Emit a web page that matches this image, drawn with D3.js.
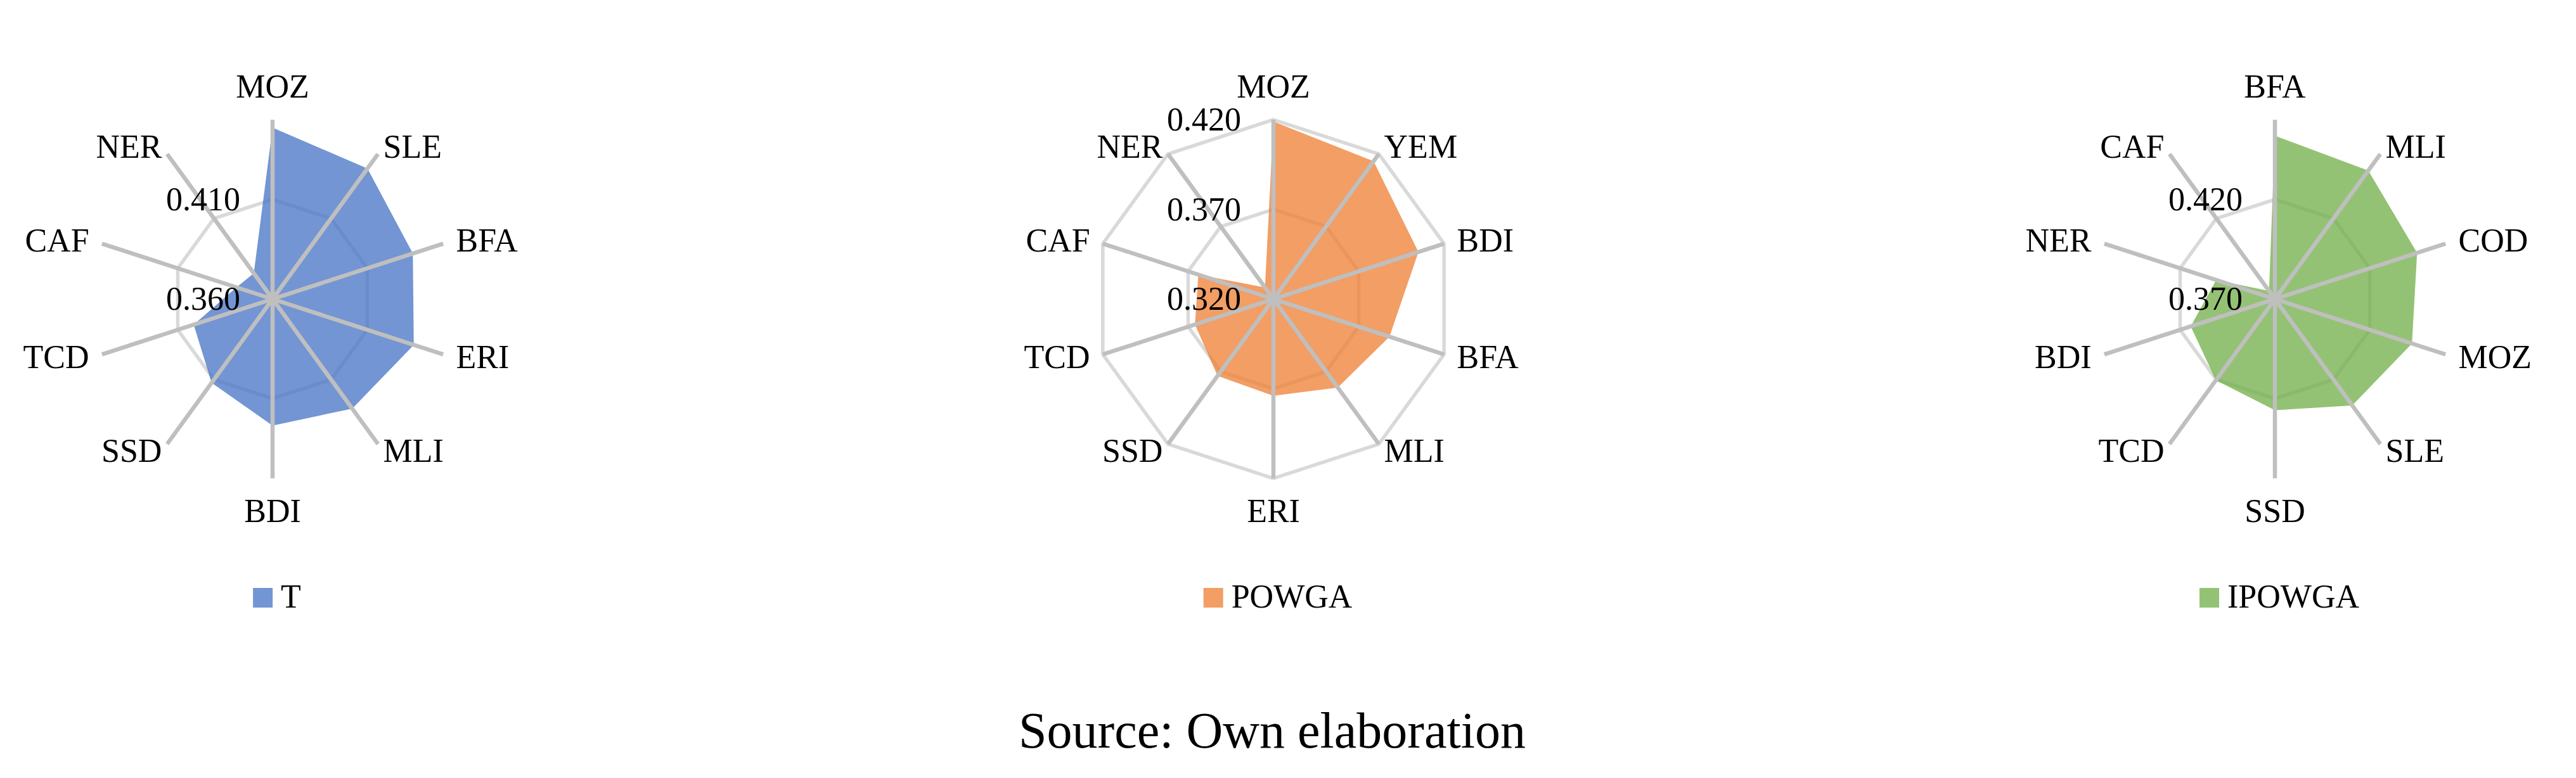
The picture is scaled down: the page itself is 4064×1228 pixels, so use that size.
<html>
<head>
  <script src="https://cdn.jsdelivr.net/npm/d3@7"></script>
  <style type="text/css">
    body { margin: 0; background: #fff; }
    text { font-family: "Liberation Serif", serif; fill: #000; }
  </style>
</head>
<body>
<svg id="viz" width="4064" height="1228"></svg>

<script>
// chart 1 : T
var tAxes = ["MOZ", "SLE", "BFA", "ERI", "MLI", "BDI", "SSD", "TCD", "CAF", "NER"];
var tValues = [0.446, 0.441, 0.434, 0.4345, 0.428, 0.4235, 0.412, 0.4016, 0.379, 0.376];
var tTicks = [0.360, 0.410];
var tRange = [0.36, 0.45];

// chart 2 : POWGA
var powgaAxes = ["MOZ", "YEM", "BDI", "BFA", "MLI", "ERI", "SSD", "TCD", "CAF", "NER"];
var powgaValues = [0.419, 0.415, 0.405, 0.388, 0.381, 0.374, 0.373, 0.366, 0.364, 0.328];
var powgaTicks = [0.320, 0.370, 0.420];
var powgaRange = [0.32, 0.42];

// chart 3 : IPOWGA
var ipowgaAxes = ["BFA", "MLI", "COD", "MOZ", "SLE", "SSD", "TCD", "BDI", "NER", "CAF"];
var ipowgaValues = [0.452, 0.4497, 0.445, 0.4423, 0.436, 0.4258, 0.4204, 0.4144, 0.401, 0.375];
var ipowgaTicks = [0.370, 0.420];
var ipowgaRange = [0.37, 0.46];

var svg = d3.select("#viz");
var R = 283;
var cy = 472;
var fs = 52;

function radar(cx, axes, values, ticks, range, color, name) {
  var g = svg.append("g").attr("transform", "translate(" + cx + "," + cy + ")");
  var r = d3.scaleLinear().domain(range).range([0, R]);
  var angle = d3.scaleLinear().domain([0, axes.length]).range([0, 2 * Math.PI]);

  var ring = d3.lineRadial()
    .angle(function(d, i) { return angle(i); })
    .radius(function(d) { return r(d); })
    .curve(d3.curveLinearClosed);

  // grid rings (under the fill)
  g.selectAll(".ring")
    .data(ticks.filter(function(t) { return t > range[0]; }))
    .enter()
    .append("path")
      .attr("d", function(t) { return ring(axes.map(function() { return t; })); })
      .attr("fill", "none")
      .style("stroke", "#d9d9d9")
      .style("stroke-width", 5.5);

  // series area
  g.append("path")
    .datum(values)
    .attr("d", ring)
    .attr("fill", color)
    .attr("fill-opacity", 0.75);

  // spokes
  g.selectAll(".spoke")
    .data(axes)
    .enter()
    .append("line")
      .attr("x1", 0).attr("y1", 0)
      .attr("x2", function(d, i) { return R * Math.sin(angle(i)); })
      .attr("y2", function(d, i) { return -R * Math.cos(angle(i)); })
      .style("stroke", "#bfbfbf")
      .style("stroke-width", 6.5);

  // category labels
  g.selectAll(".cat")
    .data(axes)
    .enter()
    .append("text")
      .attr("font-size", fs)
      .attr("x", function(d, i) {
        var s = Math.sin(angle(i));
        return (R + 14) * s + (Math.abs(s) > 0.9 ? 7 * Math.sign(s) : 0);
      })
      .attr("y", function(d, i) {
        var c = Math.cos(angle(i));
        if (Math.abs(Math.abs(c) - 1) < 0.01) return -c * (R + 52) + 17;
        return -(R + 14) * c + 17;
      })
      .attr("text-anchor", function(d, i) {
        var s = Math.sin(angle(i));
        if (Math.abs(s) < 0.01) return "middle";
        return s > 0 ? "start" : "end";
      })
      .text(function(d) { return d; });

  // value labels
  g.selectAll(".tick")
    .data(ticks)
    .enter()
    .append("text")
      .attr("font-size", fs)
      .attr("x", -51)
      .attr("y", function(t) { return -r(t) + 17; })
      .attr("text-anchor", "end")
      .text(function(t) { return d3.format(".3f")(t); });

  // legend
  var leg = svg.append("g");
  leg.append("rect")
    .attr("width", 31).attr("height", 31)
    .attr("fill", color).attr("fill-opacity", 0.75);
  var lt = leg.append("text")
    .attr("font-size", fs)
    .attr("x", 44).attr("y", 31)
    .text(name);
  var w = 44 + lt.node().getComputedTextLength();
  leg.attr("transform", "translate(" + (cx + 7 - w / 2) + ",928)");
}

radar(430, tAxes, tValues, tTicks, tRange, "#4472c4", "T");
radar(2009, powgaAxes, powgaValues, powgaTicks, powgaRange, "#ed7d31", "POWGA");
radar(3589, ipowgaAxes, ipowgaValues, ipowgaTicks, ipowgaRange, "#70ad47", "IPOWGA");

svg.append("text")
  .attr("x", 2007)
  .attr("y", 1180)
  .attr("font-size", 80)
  .attr("text-anchor", "middle")
  .text("Source: Own elaboration");
</script>
</body>
</html>
